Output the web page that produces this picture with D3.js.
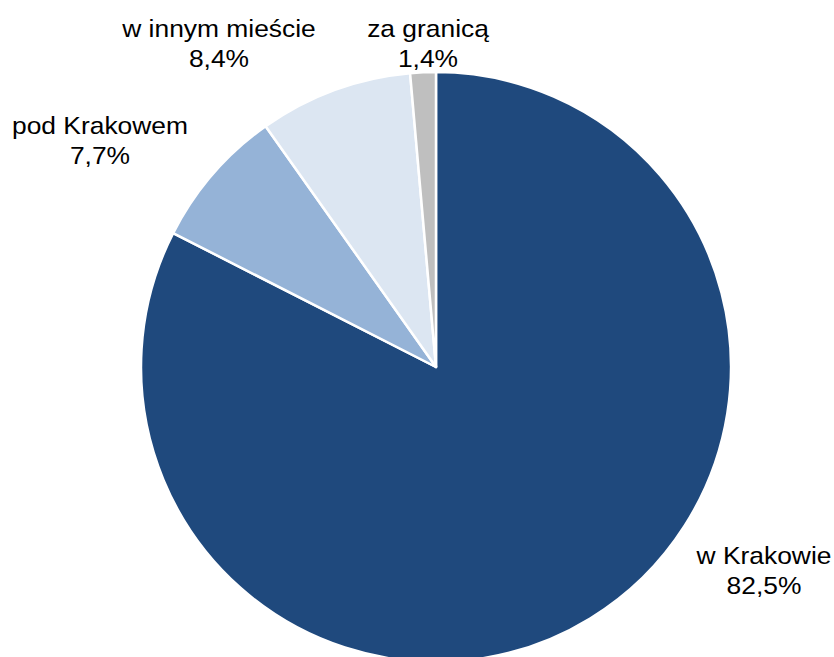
<!DOCTYPE html>
<html><head><meta charset="utf-8">
<script src="https://cdn.jsdelivr.net/npm/d3@7"></script>
<style>html,body{margin:0;padding:0;background:#fff;}</style>
</head><body>
<svg id="c" width="834" height="657"></svg>
<script>
const categories = ["w Krakowie", "pod Krakowem", "w innym mieście", "za granicą"];
const values = [82.5, 7.7, 8.4, 1.4];
const valueLabels = ["82,5%", "7,7%", "8,4%", "1,4%"];
const colors = ["#1F497D", "#95B3D7", "#DCE6F2", "#BFBFBF"];
// label anchors (center x, first baseline y)
const labelPos = [[764, 564], [100, 134], [219, 37], [428, 37]];

const svg = d3.select("#c");
const cx = 436, cy = 367, R = 295;
const pie = d3.pie().sort(null).value(d => d)(values);
const arc = d3.arc().innerRadius(0).outerRadius(R);
const g = svg.append("g").attr("transform", `translate(${cx},${cy})`);
g.selectAll("path").data(pie).join("path")
  .attr("d", arc)
  .attr("fill", (d, i) => colors[i])
  .attr("stroke", "#fff").attr("stroke-width", 2.5).attr("stroke-linejoin", "round");

const lab = svg.selectAll("g.lab").data(categories).join("g").attr("class", "lab")
  .attr("transform", (d, i) => `translate(${labelPos[i][0]},${labelPos[i][1]}) scale(1.1,1)`);
lab.append("text").attr("text-anchor", "middle")
  .style("font-family", "Liberation Sans, Arial, sans-serif").style("font-size", "24px").attr("fill", "#000")
  .text(d => d);
lab.append("text").attr("text-anchor", "middle").attr("y", 30)
  .style("font-family", "Liberation Sans, Arial, sans-serif").style("font-size", "24px").attr("fill", "#000")
  .text((d, i) => valueLabels[i]);
</script>
</body></html>
